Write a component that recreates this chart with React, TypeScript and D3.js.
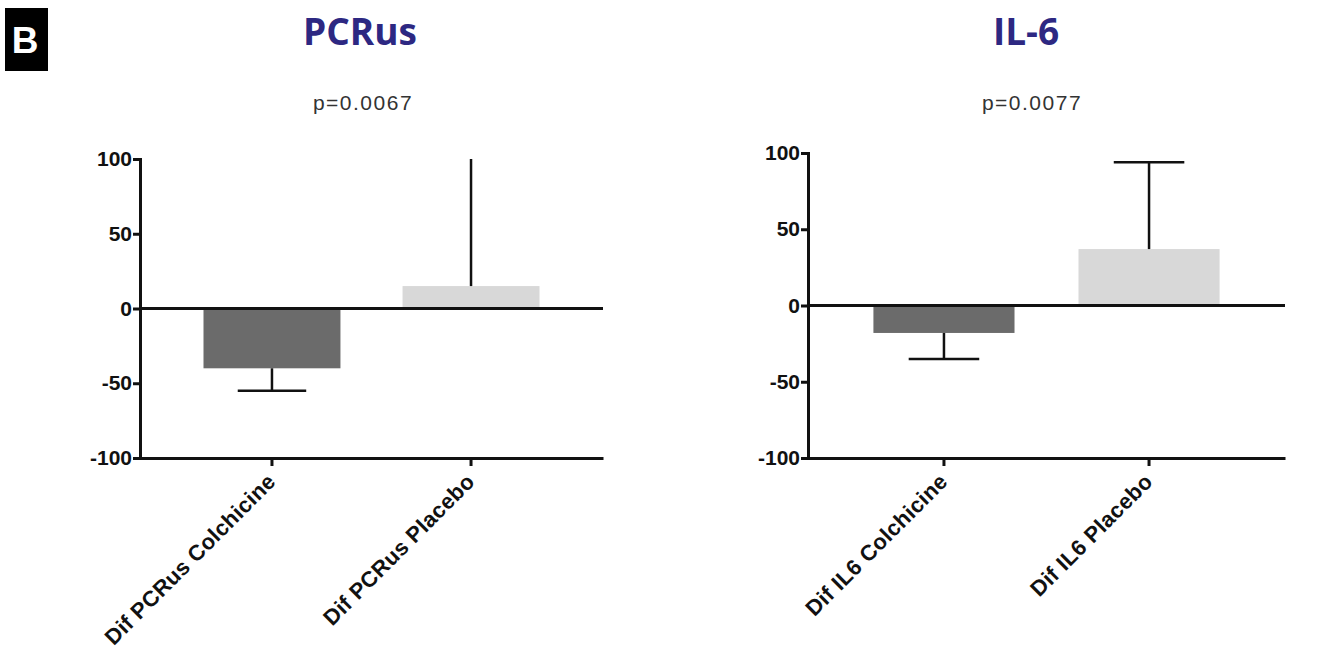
import { useEffect, useRef } from 'react'
import * as d3 from 'd3'

const pcrCategories = ['Dif PCRus Colchicine', 'Dif PCRus Placebo']
const pcrMeans = [-40, 15]
const pcrErrorEnds = [-55, 100]

const il6Categories = ['Dif IL6 Colchicine', 'Dif IL6 Placebo']
const il6Means = [-18, 37]
const il6ErrorEnds = [-35, 94]

const yTicks = [-100, -50, 0, 50, 100]
const barColors = ['#6b6b6b', '#d8d8d8']

interface PanelSpec {
  title: string
  pValue: string
  categories: string[]
  means: number[]
  errorEnds: number[]
  left: number
  right: number
  top: number
  bottom: number
  titleX: number
  pX: number
  capTop: boolean
}

const panels: PanelSpec[] = [
  { title: 'PCRus', pValue: 'p=0.0067', categories: pcrCategories, means: pcrMeans, errorEnds: pcrErrorEnds, left: 140, right: 603, top: 159, bottom: 458, titleX: 360, pX: 363, capTop: false },
  { title: 'IL-6', pValue: 'p=0.0077', categories: il6Categories, means: il6Means, errorEnds: il6ErrorEnds, left: 808, right: 1285, top: 153, bottom: 458, titleX: 1026, pX: 1032, capTop: true },
]

const FONT = 'Liberation Sans, Arial, sans-serif'

export default function App() {
  const svgRef = useRef<SVGSVGElement>(null)

  useEffect(() => {
    if (!svgRef.current) return
    const svg = d3.select(svgRef.current)
    svg.selectAll('*').remove()

    // panel letter
    svg.append('rect').attr('x', 5).attr('y', 8).attr('width', 43).attr('height', 63).attr('fill', '#000')
    svg.append('text')
      .attr('x', 25).attr('y', 53)
      .attr('text-anchor', 'middle')
      .attr('font-family', FONT)
      .attr('font-weight', 'bold')
      .attr('font-size', 37)
      .attr('fill', '#fff')
      .text('B')

    panels.forEach(p => {
      const g = svg.append('g')
      const x = d3.scaleBand<string>()
        .domain(p.categories)
        .range([p.left, p.right])
        .paddingInner(0.312)
        .paddingOuter(0.319)
      const y = d3.scaleLinear().domain([-100, 100]).range([p.bottom, p.top])
      const cx = (c: string) => (x(c) as number) + x.bandwidth() / 2

      g.append('text')
        .attr('x', p.titleX).attr('y', 45)
        .attr('text-anchor', 'middle')
        .attr('font-family', 'Open Sans, Lato, sans-serif')
        .attr('font-weight', 'bold')
        .attr('font-size', 37)
        .attr('fill', '#2d2882')
        .text(p.title)

      g.append('text')
        .attr('x', p.pX).attr('y', 110)
        .attr('text-anchor', 'middle')
        .attr('font-family', FONT)
        .attr('font-size', 21)
        .attr('letter-spacing', 1.5)
        .attr('fill', '#333')
        .text(p.pValue)

      // bars
      p.categories.forEach((c, i) => {
        const v = p.means[i]
        g.append('rect')
          .attr('x', x(c) as number)
          .attr('y', y(Math.max(0, v)))
          .attr('width', x.bandwidth())
          .attr('height', Math.abs(y(v) - y(0)))
          .attr('fill', barColors[i])

        const e = p.errorEnds[i]
        g.append('line')
          .attr('x1', cx(c)).attr('x2', cx(c))
          .attr('y1', y(v)).attr('y2', y(e))
          .attr('stroke', '#111').attr('stroke-width', 2.5)
        if (e < 0 || p.capTop) {
          const half = x.bandwidth() / 4
          g.append('line')
            .attr('x1', cx(c) - half).attr('x2', cx(c) + half)
            .attr('y1', y(e)).attr('y2', y(e))
            .attr('stroke', '#111').attr('stroke-width', 2.5)
        }
      })

      // zero line
      g.append('line')
        .attr('x1', p.left).attr('x2', p.right)
        .attr('y1', y(0)).attr('y2', y(0))
        .attr('stroke', '#111').attr('stroke-width', 3)

      // y axis
      const yAxis = g.append('g')
        .attr('transform', `translate(${p.left},0)`)
        .call(d3.axisLeft(y).tickValues(yTicks).tickSize(7).tickPadding(1).tickFormat(d => `${d}`))
      yAxis.select('.domain').attr('stroke', '#111').attr('stroke-width', 3)
      yAxis.selectAll('.tick line').attr('stroke', '#111').attr('stroke-width', 3)
      yAxis.selectAll('.tick text')
        .attr('fill', '#111')
        .attr('font-family', FONT)
        .attr('font-weight', 'bold')
        .attr('font-size', 21)

      // x axis
      const xAxis = g.append('g')
        .attr('transform', `translate(0,${p.bottom})`)
        .call(d3.axisBottom(x).tickSize(8).tickSizeOuter(0))
      xAxis.select('.domain').attr('stroke', '#111').attr('stroke-width', 3)
      xAxis.selectAll('.tick line').attr('stroke', '#111').attr('stroke-width', 3)
      xAxis.selectAll('.tick text')
        .attr('fill', '#111')
        .attr('font-family', FONT)
        .attr('font-weight', 'bold')
        .attr('font-size', 22)
        .attr('letter-spacing', 0.3)
        .attr('text-anchor', 'end')
        .attr('x', 0)
        .attr('y', 0)
        .attr('dy', 0)
        .attr('transform', 'translate(5,25) rotate(-45)')
    })
  }, [])

  return (
    <svg
      ref={svgRef}
      width={1330}
      height={653}
      style={{ position: 'absolute', left: 0, top: 0, background: '#fff' }}
    />
  )
}
